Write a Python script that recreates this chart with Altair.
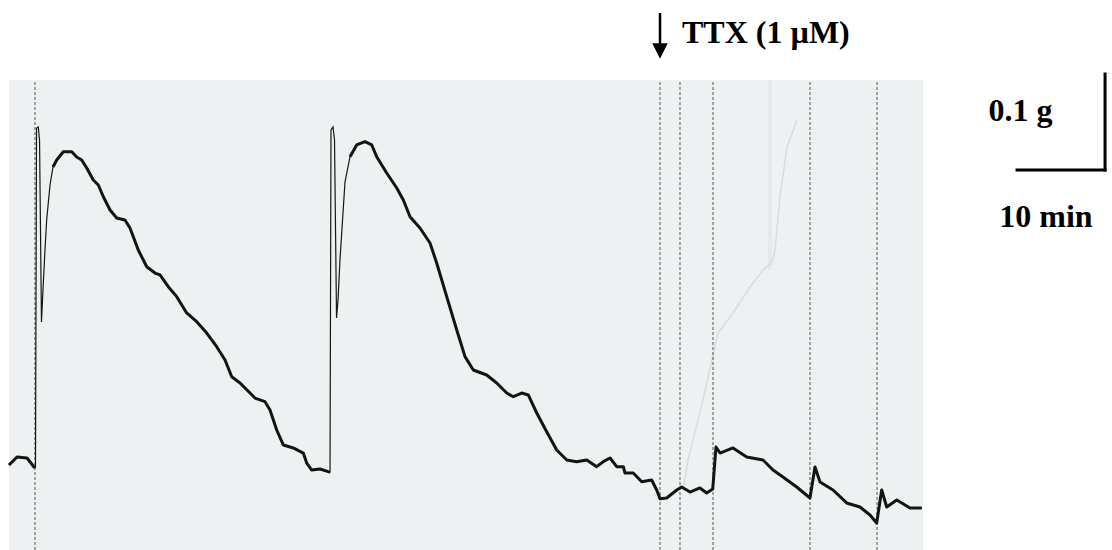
import altair as alt
import pandas as pd

# ---- scales: time in minutes, tension in g ----
T_DOMAIN = [-1.0227, 125.341]
G_DOMAIN = [0.0, 0.572917]

# ---- recorded trace (time, min ; tension, g) ----
pre_t = [0.0, 0.91, 2.05, 2.84, 3.01]
pre_g = [0.0885, 0.0969, 0.0958, 0.0865, 0.0865]

spike1_t = [3.13, 3.33, 3.47, 3.69, 3.86, 4.09, 4.28, 4.66]
spike1_g = [0.4396, 0.4406, 0.4271, 0.2375, 0.2708, 0.3125, 0.3438, 0.3802]

decay1_t = [5.0, 5.42, 6.17, 7.13, 7.69, 8.26, 8.83, 9.58, 10.15, 10.72,
            11.48, 12.24, 13.18, 13.75, 14.69, 15.65, 16.59, 17.16, 18.1, 19.06,
            20.19, 21.33, 22.47, 23.6, 24.55, 25.31, 26.25, 27.39, 27.95, 28.52,
            29.09, 29.66, 30.42, 31.17, 32.31, 33.44, 33.83, 34.4, 35.34, 36.28, 36.48]
decay1_g = [0.3990, 0.4063, 0.4149, 0.4149, 0.4094, 0.4063, 0.3979, 0.3854, 0.3802, 0.3680,
            0.3542, 0.3458, 0.3438, 0.3354, 0.3125, 0.2951, 0.2885, 0.2865, 0.2743, 0.2639,
            0.2469, 0.2378, 0.2260, 0.2118, 0.1979, 0.1805, 0.1740, 0.1635, 0.1583, 0.1563,
            0.1545, 0.1458, 0.1250, 0.1094, 0.1063, 0.1010, 0.0906, 0.0833, 0.0844, 0.0816, 0.0813]

spike2_t = [36.59, 36.82, 36.99, 37.22, 37.39, 37.61, 38.18]
spike2_g = [0.4375, 0.4406, 0.4271, 0.2417, 0.2604, 0.3021, 0.3833]

decay2_t = [38.75, 39.51, 40.45, 41.22, 41.78, 42.92, 44.06, 44.81, 45.57, 46.7,
            47.84, 48.6, 49.74, 50.88, 51.82, 52.76, 54.28, 55.42, 56.56, 57.31,
            58.26, 59.01, 59.97, 61.1, 62.24, 63.38, 64.51, 65.65, 66.78, 67.53,
            68.3, 69.06, 69.81, 70.0, 70.94, 71.9, 73.03, 73.6, 73.98,
            74.74, 75.88, 76.44, 77.39, 78.52, 79.28, 79.97, 80.34, 80.8, 82.27,
            83.83, 85.68, 86.82, 87.95, 89.51, 91.02, 91.59, 92.16, 93.64, 95.19,
            96.7, 97.84, 98.6, 99.17, 99.74, 100.88, 102.39, 103.72]
decay2_g = [0.4097, 0.4219, 0.4253, 0.4219, 0.4097, 0.3927, 0.3771, 0.3646, 0.3472, 0.3354,
            0.3198, 0.2990, 0.2639, 0.2292, 0.2014, 0.1875, 0.1823, 0.1740, 0.1635, 0.1597,
            0.1635, 0.1615, 0.1427, 0.1232, 0.1042, 0.0938, 0.0920, 0.0938, 0.0868, 0.0920,
            0.0958, 0.0868, 0.0868, 0.0802, 0.0802, 0.0711, 0.0729, 0.0625, 0.0535,
            0.0542, 0.0625, 0.0656, 0.0604, 0.0646, 0.0594, 0.0635, 0.1073, 0.1010, 0.1063,
            0.0969, 0.0938, 0.0833, 0.0760, 0.0656, 0.0542, 0.0865, 0.0708, 0.0625, 0.0490,
            0.0448, 0.0365, 0.0281, 0.0625, 0.0448, 0.0521, 0.0438, 0.0438]

# faint ghost trace on the paper
ghost_t = [76.7, 77.16, 78.86, 80.57, 82.27, 84.2, 85.68, 86.7, 87.05, 87.61, 88.41, 89.55]
ghost_g = [0.0677, 0.0938, 0.1563, 0.2260, 0.2469, 0.2740, 0.2917, 0.3000, 0.3125, 0.3677, 0.4198, 0.4479]

# event markers (dashed verticals)
event_t = [2.95, 73.98, 76.25, 80.0, 91.02, 98.64]

# paper extent
paper_t = [0.0, 103.86]
paper_g = [0.0, 0.4896]

# TTX arrow
ttx_t = 73.98
ttx_arrow_g = [0.5594, 0.5240]
ttx_head_g = 0.5198
ttx_label = "TTX (1 µM)"
ttx_label_t = 76.48
ttx_label_g = 0.5281

# scale bar: 10 min x 0.1 g
bar_t0, bar_len_t = 114.55, 10.0
bar_g0, bar_len_g = 0.3958, 0.1
bar_label_g = "0.1 g"
bar_label_t = "10 min"
bar_label_g_pos = (114.94, 0.4469)
bar_label_t_pos = (117.84, 0.3365)

segments = [("s1", pre_t, pre_g), ("f1", spike1_t, spike1_g), ("s2", decay1_t, decay1_g),
            ("f2", spike2_t, spike2_g), ("s3", decay2_t, decay2_g)]
rows = []
for name, ts, gs in segments:
    for t, g in zip(ts, gs):
        rows.append({"t": t, "g": g, "seg": name, "fast": name.startswith("f")})
trace = pd.DataFrame(rows)

xs = alt.Scale(domain=T_DOMAIN, nice=False, zero=False)
ys = alt.Scale(domain=G_DOMAIN, nice=False, zero=False)

ghost = pd.DataFrame({"t": ghost_t, "g": ghost_g})
events = pd.DataFrame({"t": event_t, "g0": [paper_g[0]] * len(event_t), "g1": [paper_g[1]] * len(event_t)})

paper = alt.Chart(pd.DataFrame({"t0": [paper_t[0]], "t1": [paper_t[1]],
                                "g0": [paper_g[0]], "g1": [paper_g[1]]})).mark_rect(
    fill="#eef1f1").encode(
    x=alt.X("t0:Q", scale=xs, axis=None), x2="t1:Q",
    y=alt.Y("g0:Q", scale=ys, axis=None), y2="g1:Q")

band = alt.Chart(pd.DataFrame({"t": [86.48], "g0": [0.2917], "g1": [paper_g[1]]})).mark_rule(
    color="#e6e9e9", strokeWidth=4).encode(
    x=alt.X("t:Q", scale=xs, axis=None),
    y=alt.Y("g0:Q", scale=ys, axis=None), y2="g1:Q")

ghost_line = alt.Chart(ghost).mark_line(color="#d9dcdd", strokeWidth=1.6).encode(
    x=alt.X("t:Q", scale=xs, axis=None),
    y=alt.Y("g:Q", scale=ys, axis=None), order="t:Q")

event_rules = alt.Chart(events).mark_rule(color="#555555", strokeWidth=1, strokeDash=[3, 2]).encode(
    x=alt.X("t:Q", scale=xs, axis=None),
    y=alt.Y("g0:Q", scale=ys, axis=None), y2="g1:Q")

thin = alt.Chart(trace).mark_line(color="#161616", strokeWidth=1.2).encode(
    x=alt.X("t:Q", scale=xs, axis=None),
    y=alt.Y("g:Q", scale=ys, axis=None), order="t:Q")

thick = alt.Chart(trace).transform_filter("!datum.fast").mark_line(
    color="#141414", strokeWidth=3, strokeJoin="round").encode(
    x=alt.X("t:Q", scale=xs, axis=None),
    y=alt.Y("g:Q", scale=ys, axis=None), detail="seg:N", order="t:Q")

arrow_shaft = alt.Chart(pd.DataFrame({"t": [ttx_t], "g0": [ttx_arrow_g[0]], "g1": [ttx_arrow_g[1]]})).mark_rule(
    color="black", strokeWidth=2.5).encode(
    x=alt.X("t:Q", scale=xs, axis=None),
    y=alt.Y("g0:Q", scale=ys, axis=None), y2="g1:Q")

arrow_head = alt.Chart(pd.DataFrame({"t": [ttx_t], "g": [ttx_head_g]})).mark_point(
    shape="M-1,-1L1,-1L0,1Z", filled=True, color="black", size=240, opacity=1).encode(
    x=alt.X("t:Q", scale=xs, axis=None),
    y=alt.Y("g:Q", scale=ys, axis=None))

font = "Liberation Serif"
ttx_text = alt.Chart(pd.DataFrame({"t": [ttx_label_t], "g": [ttx_label_g], "s": [ttx_label]})).mark_text(
    font=font, fontSize=32, fontWeight="bold", align="left", baseline="alphabetic", color="black").encode(
    x=alt.X("t:Q", scale=xs, axis=None), y=alt.Y("g:Q", scale=ys, axis=None), text="s:N")

bar_df = pd.DataFrame({
    "t0": [bar_t0, bar_t0 + bar_len_t],
    "t1": [bar_t0 + bar_len_t, bar_t0 + bar_len_t],
    "g0": [bar_g0, bar_g0],
    "g1": [bar_g0, bar_g0 + bar_len_g],
})
scale_bar = alt.Chart(bar_df).mark_rule(color="black", strokeWidth=3, strokeCap="square").encode(
    x=alt.X("t0:Q", scale=xs, axis=None), x2="t1:Q",
    y=alt.Y("g0:Q", scale=ys, axis=None), y2="g1:Q")

bar_text = alt.Chart(pd.DataFrame({
    "t": [bar_label_g_pos[0], bar_label_t_pos[0]],
    "g": [bar_label_g_pos[1], bar_label_t_pos[1]],
    "s": [bar_label_g, bar_label_t]})).mark_text(
    font=font, fontSize=32, fontWeight="bold", align="center", baseline="alphabetic", color="black").encode(
    x=alt.X("t:Q", scale=xs, axis=None), y=alt.Y("g:Q", scale=ys, axis=None), text="s:N")

chart = alt.layer(
    paper, band, ghost_line, event_rules, thin, thick,
    arrow_shaft, arrow_head, ttx_text, scale_bar, bar_text
).properties(
    width=1112, height=550, padding=0,
    autosize=alt.AutoSizeParams(type="none"),
    background="white",
).configure_view(stroke=None)

chart.save("out.html", embed_options={"renderer": "svg", "actions": False})
